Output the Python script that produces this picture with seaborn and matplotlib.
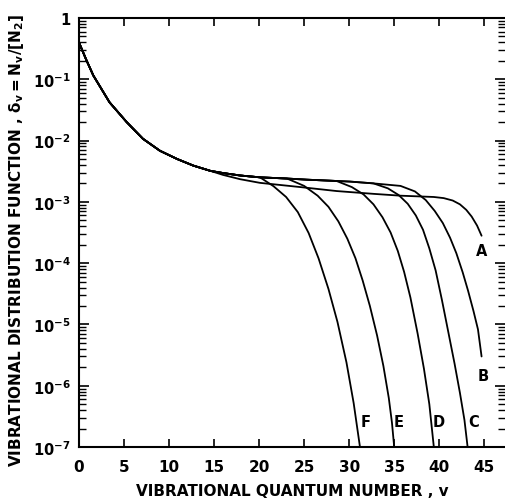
import numpy as np
import pandas as pd
import matplotlib
matplotlib.use("Agg")
import matplotlib.pyplot as plt
from matplotlib.ticker import LogLocator, NullFormatter
import seaborn as sns

# ---- data (v, delta_v) ----
V_COMMON = [0.0, 0.8, 1.6, 3.4, 5.3, 7.1, 9.0, 10.9, 12.7, 14.6]
D_COMMON = [0.40, 0.21, 0.115, 0.042, 0.020, 0.0107, 0.0068, 0.0050, 0.0039, 0.0032]

V_PLATEAU = [16.0, 17.9, 20.1, 23.1, 25.3, 28.6, 30.1, 32.7, 35.7]
D_PLATEAU = [0.00295, 0.00269, 0.00251, 0.0024, 0.0023, 0.00219, 0.00214, 0.0020, 0.00182]

V_A = [16.0, 17.9, 20.1, 24.6, 28.6, 32.7, 35.7, 39.4, 40.5, 41.5, 42.3, 43.0, 43.6, 44.2, 44.7]
D_A = [0.00275, 0.00234, 0.00204, 0.00174, 0.0015, 0.00135, 0.00126, 0.0012,
       0.00115, 0.00105, 9.1e-4, 7.4e-4, 5.75e-4, 4.1e-4, 2.8e-4]

V_B = [37.3, 38.5, 39.5, 40.4, 41.2, 41.9, 42.6, 43.2, 43.8, 44.3, 44.7]
D_B = [0.00148, 0.00107, 7.1e-4, 4.5e-4, 2.6e-4, 1.45e-4, 7.1e-5, 3.55e-5,
       1.66e-5, 8.3e-6, 3.0e-6]

V_C = [34.3, 35.5, 36.5, 37.4, 38.2, 38.9, 39.6, 40.3, 41.0, 41.7, 42.3, 42.8, 43.15]
D_C = [0.00166, 0.00129, 9.3e-4, 6.0e-4, 3.5e-4, 1.74e-4, 7.6e-5, 2.5e-5,
       7.6e-6, 2.3e-6, 7.6e-7, 2.75e-7, 1.0e-7]

V_D = [30.3, 31.6, 32.7, 33.7, 34.6, 35.4, 36.1, 36.8, 37.6, 38.3, 38.9, 39.4]
D_D = [0.00174, 0.00132, 9.1e-4, 5.6e-4, 3.16e-4, 1.58e-4, 7.2e-5, 2.75e-5,
       7.1e-6, 1.9e-6, 5.0e-7, 1.0e-7]

V_E = [25.0, 26.5, 27.7, 28.8, 29.8, 30.7, 31.5, 32.3, 33.1, 33.8, 34.4, 34.75, 35.0]
D_E = [0.00182, 0.00126, 8.3e-4, 4.8e-4, 2.5e-4, 1.2e-4, 5.2e-5, 2.0e-5,
       6.6e-6, 2.1e-6, 6.3e-7, 2.5e-7, 1.0e-7]

V_F = [21.6, 23.0, 24.3, 25.5, 26.6, 27.7, 28.7, 29.7, 30.5, 31.2]
D_F = [0.0018, 0.0012, 6.8e-4, 3.1e-4, 1.2e-4, 3.8e-5, 1.1e-5, 2.4e-6, 5.2e-7, 1.0e-7]

# plateau departure (last shared plateau point) for B..F
DEPART = {"B": 35.7, "C": 32.7, "D": 28.6, "E": 23.1, "F": 20.1}

CURVE_LABELS = ["A", "B", "C", "D", "E", "F"]
LABEL_V = [44.7, 44.9, 43.8, 39.9, 35.5, 31.8]
LABEL_D = [1.6e-4, 1.45e-6, 2.6e-7, 2.6e-7, 2.6e-7, 2.6e-7]

X_TICKS = [0, 5, 10, 15, 20, 25, 30, 35, 40, 45]
Y_TICKS = [1, 1e-1, 1e-2, 1e-3, 1e-4, 1e-5, 1e-6, 1e-7]
Y_TICKLABELS = ["1", r"$10^{-1}$", r"$10^{-2}$", r"$10^{-3}$", r"$10^{-4}$",
                r"$10^{-5}$", r"$10^{-6}$", r"$10^{-7}$"]

XLABEL = "VIBRATIONAL QUANTUM NUMBER , v"
YLABEL = r"VIBRATIONAL DISTRIBUTION FUNCTION , $\delta_{v} = N_{v}/[N_{2}]$"

# ---- build long table ----
tails = {"A": (V_A, D_A), "B": (V_B, D_B), "C": (V_C, D_C),
         "D": (V_D, D_D), "E": (V_E, D_E), "F": (V_F, D_F)}
rows = []
for name in CURVE_LABELS:
    vs = list(V_COMMON)
    ds = list(D_COMMON)
    if name != "A":
        for v, d in zip(V_PLATEAU, D_PLATEAU):
            if v <= DEPART[name]:
                vs.append(v)
                ds.append(d)
    tv, td = tails[name]
    vs += list(tv)
    ds += list(td)
    for i, (v, d) in enumerate(zip(vs, ds)):
        rows.append({"curve": name, "order": i, "v": v, "delta": d})
df = pd.DataFrame(rows)

# ---- plot ----
sns.set_style("ticks")
plt.rcParams["font.family"] = ["DejaVu Sans"]
plt.rcParams["font.weight"] = "bold"
plt.rcParams["mathtext.fontset"] = "dejavusans"
plt.rcParams["mathtext.default"] = "bf"
plt.rcParams["text.color"] = "black"
plt.rcParams["axes.labelcolor"] = "black"
plt.rcParams["xtick.color"] = "black"
plt.rcParams["ytick.color"] = "black"

fig = plt.figure(figsize=(5.06, 5.02), dpi=100)
ax = fig.add_axes([0.156, 0.1076, 0.842, 0.8546])

sns.lineplot(data=df, x="v", y="delta", hue="curve", units="curve",
             estimator=None, sort=False,
             palette={n: "black" for n in CURVE_LABELS},
             linewidth=1.3, legend=False, ax=ax)

ax.set_yscale("log")
ax.set_xlim(0, 47.3)
ax.set_ylim(1e-7, 1)

ax.set_xticks(X_TICKS)
ax.set_xticklabels([str(t) for t in X_TICKS], fontsize=11, fontweight="bold")
ax.set_yticks(Y_TICKS)
ax.set_yticklabels(Y_TICKLABELS, fontsize=10.5)
ax.yaxis.set_minor_locator(LogLocator(base=10, subs=np.arange(2, 10), numticks=20))
ax.yaxis.set_minor_formatter(NullFormatter())

ax.tick_params(axis="x", which="major", direction="in", length=6, width=1.2,
               top=True, bottom=True, pad=9, colors="black")
ax.tick_params(axis="x", which="minor", bottom=False, top=False)
ax.tick_params(axis="y", which="major", direction="in", length=7.5, width=1.2,
               left=True, right=True, pad=6, colors="black")
ax.tick_params(axis="y", which="minor", direction="in", length=5, width=1.0,
               left=True, right=True, colors="black")

for side in ["left", "bottom", "top"]:
    ax.spines[side].set_visible(True)
    ax.spines[side].set_linewidth(1.5)
    ax.spines[side].set_color("black")
ax.spines["right"].set_visible(False)

ax.set_xlabel(XLABEL, fontsize=11, fontweight="bold", labelpad=6, color="black")
ax.set_ylabel(YLABEL, fontsize=11, fontweight="bold", color="black")
ax.yaxis.set_label_coords(-0.125, 0.483)

for name, lv, ld in zip(CURVE_LABELS, LABEL_V, LABEL_D):
    ax.text(lv, ld, name, fontsize=10.5, fontweight="bold", color="black",
            ha="center", va="center")

fig.savefig("out.png", dpi=100, facecolor="white")
